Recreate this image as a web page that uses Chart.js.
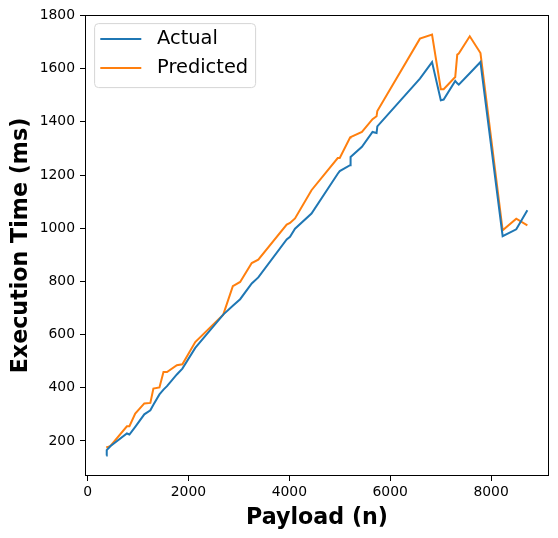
<!DOCTYPE html>
<html>
<head>
<meta charset="utf-8">
<script src="https://cdn.jsdelivr.net/npm/chart.js@4.4.1/dist/chart.umd.min.js"></script>
<style>
html,body{margin:0;padding:0;background:#fff;}
canvas{display:block;}
</style>
</head>
<body>
<canvas id="c" width="558" height="538"></canvas>
<script>
const payloads = [370, 380, 450, 780, 830, 945, 1125, 1245, 1305, 1425, 1505, 1575, 1770, 1880, 2135, 2690, 2880, 3025, 3255, 3385, 3948, 4014, 4113, 4440, 4960, 5000, 5205, 5215, 5440, 5650, 5730, 5745, 6590, 6830, 7004, 7060, 7290, 7330, 7360, 7578, 7790, 8230, 8500, 8720];
const actualTimes = [145, 165, 180, 228, 224, 253, 300, 315, 336, 375, 393, 406, 450, 472, 550, 675, 708, 733, 792, 815, 958, 968, 998, 1055, 1205, 1215, 1237, 1268, 1306, 1362, 1358, 1383, 1563, 1625, 1481, 1484, 1554, 1545, 1540, 1583, 1625, 970, 996, 1068];
const predictedTimes = [175, 175, 180, 255, 255, 303, 341, 343, 397, 401, 459, 459, 485, 488, 572, 675, 782, 798, 869, 882, 1014, 1020, 1037, 1143, 1264, 1264, 1341, 1343, 1362, 1410, 1421, 1441, 1713, 1728, 1523, 1523, 1569, 1653, 1657, 1722, 1659, 992, 1036, 1011];
const xTicks = [0, 2000, 4000, 6000, 8000];
const yTicks = [200, 400, 600, 800, 1000, 1200, 1400, 1600, 1800];
const seriesNames = ['Actual', 'Predicted'];
const seriesColors = ['#1f77b4', '#ff7f0e'];

const FONT = 'DejaVu Sans';

const frame = {
  id: 'frame',
  afterDraw(chart) {
    const {ctx, chartArea: a} = chart;
    ctx.save();
    ctx.strokeStyle = '#000';
    ctx.lineWidth = 1;
    ctx.strokeRect(Math.round(a.left) + 0.5, Math.round(a.top) + 0.5, Math.round(a.right - a.left) - 1, Math.round(a.bottom - a.top) - 1);
    // legend
    const lx = a.left + 9.6, ly = a.top + 8.6, lw = 161, lh = 64, r = 4;
    ctx.beginPath();
    ctx.moveTo(lx + r, ly);
    ctx.lineTo(lx + lw - r, ly);
    ctx.arcTo(lx + lw, ly, lx + lw, ly + r, r);
    ctx.lineTo(lx + lw, ly + lh - r);
    ctx.arcTo(lx + lw, ly + lh, lx + lw - r, ly + lh, r);
    ctx.lineTo(lx + r, ly + lh);
    ctx.arcTo(lx, ly + lh, lx, ly + lh - r, r);
    ctx.lineTo(lx, ly + r);
    ctx.arcTo(lx, ly, lx + r, ly, r);
    ctx.closePath();
    ctx.fillStyle = 'rgba(255,255,255,0.8)';
    ctx.fill();
    ctx.strokeStyle = '#d6d6d6';
    ctx.lineWidth = 1;
    ctx.stroke();
    chart.data.datasets.forEach((ds, i) => {
      const y = ly + 15.5 + i * 29;
      ctx.beginPath();
      ctx.strokeStyle = ds.borderColor;
      ctx.lineWidth = 2;
      ctx.moveTo(lx + 5.7, y);
      ctx.lineTo(lx + 46.7, y);
      ctx.stroke();
      ctx.fillStyle = '#000';
      ctx.font = '19.4px "' + FONT + '"';
      ctx.textBaseline = 'middle';
      ctx.textAlign = 'left';
      ctx.fillText(ds.label, lx + 62.5, y);
    });
    ctx.restore();
  }
};

const tickFont = {family: FONT, size: 13.9};
const titleFont = {family: FONT, size: 22.2, weight: 'bold'};
const plain = v => String(v);

new Chart(document.getElementById('c'), {
  type: 'line',
  data: {
    datasets: [actualTimes, predictedTimes].map((vals, i) => ({
      label: seriesNames[i],
      data: payloads.map((x, j) => ({x: x, y: vals[j]})),
      borderColor: seriesColors[i],
      backgroundColor: seriesColors[i],
      borderWidth: 2,
      pointRadius: 0,
      tension: 0,
      fill: false
    }))
  },
  options: {
    responsive: false,
    animation: false,
    devicePixelRatio: 1,
    layout: {padding: {left: 0, right: 9, top: 15, bottom: 0}},
    plugins: {legend: {display: false}, tooltip: {enabled: false}},
    scales: {
      x: {
        type: 'linear',
        min: -51,
        max: 9149,
        afterBuildTicks: s => { s.ticks = xTicks.map(v => ({value: v})); },
        afterFit: s => { s.height = 62; },
        grid: {display: true, drawOnChartArea: false, drawTicks: true, tickLength: 5, tickColor: '#000', tickWidth: 1},
        border: {display: false},
        ticks: {color: '#000', font: tickFont, padding: 3, maxRotation: 0, autoSkip: false, callback: plain},
        title: {display: true, text: 'Payload (n)', color: '#000', font: titleFont, padding: {top: 0, bottom: 6}}
      },
      y: {
        type: 'linear',
        min: 68,
        max: 1802,
        afterBuildTicks: s => { s.ticks = yTicks.map(v => ({value: v})); },
        afterFit: s => { s.width = 85; },
        grid: {display: true, drawOnChartArea: false, drawTicks: true, tickLength: 5, tickColor: '#000', tickWidth: 1},
        border: {display: false},
        ticks: {color: '#000', font: tickFont, padding: 5, autoSkip: false, callback: plain},
        title: {display: true, text: 'Execution Time (ms)', color: '#000', font: titleFont, padding: {top: 8, bottom: 0}}
      }
    }
  },
  plugins: [frame]
});
</script>
</body>
</html>
